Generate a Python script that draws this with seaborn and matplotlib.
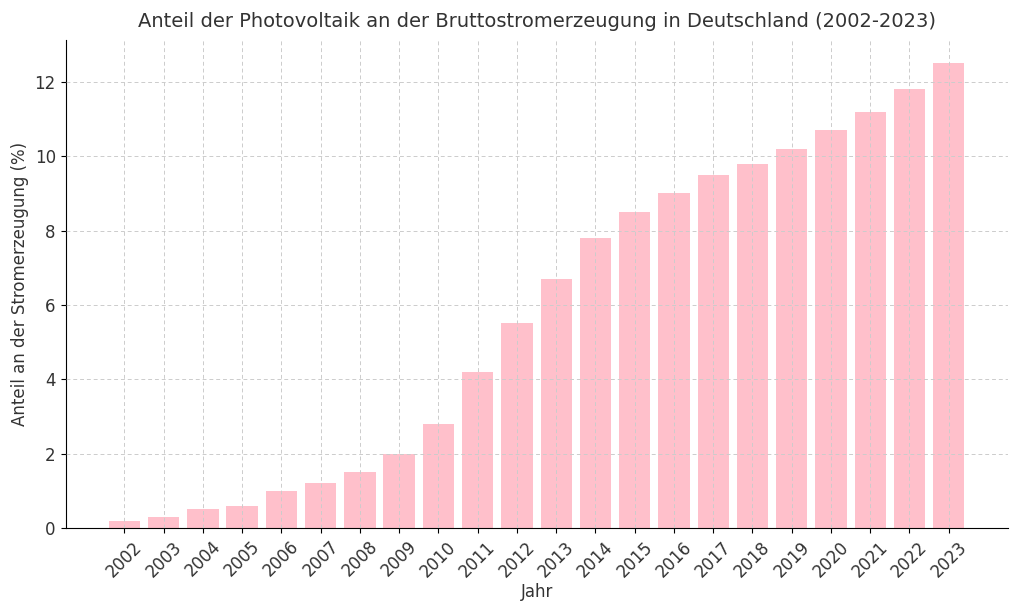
import matplotlib
matplotlib.use("Agg")
import matplotlib.pyplot as plt
import seaborn as sns
import pandas as pd

# Anteil Photovoltaik an der Bruttostromerzeugung (%)
years = [2002, 2003, 2004, 2005, 2006, 2007, 2008, 2009, 2010, 2011, 2012,
         2013, 2014, 2015, 2016, 2017, 2018, 2019, 2020, 2021, 2022, 2023]
share = [0.2, 0.3, 0.5, 0.6, 1.0, 1.2, 1.5, 2.0, 2.8, 4.2, 5.5,
         6.7, 7.8, 8.5, 9.0, 9.5, 9.8, 10.2, 10.7, 11.2, 11.8, 12.5]

df = pd.DataFrame({'Jahr': [str(y) for y in years], 'Anteil': share})

plt.rcParams['font.family'] = ['DejaVu Sans']
text_color = '#333333'

fig, ax = plt.subplots(figsize=(10.24, 6.14), dpi=100)
sns.barplot(data=df, x='Jahr', y='Anteil', color='pink', saturation=1,
            width=0.8, ax=ax)

ax.set_xlim(-1.5, len(years) - 1 + 1.5)
ax.set_ylim(0, max(share) * 1.05)
ax.grid(True, linestyle=(0, (4, 3)), color='#cccccc', linewidth=0.7)
ax.set_axisbelow(False)
for p in ax.patches:
    p.set_zorder(1)

ax.spines['top'].set_visible(False)
ax.spines['right'].set_visible(False)

ax.set_title('Anteil der Photovoltaik an der Bruttostromerzeugung in Deutschland (2002-2023)',
             fontsize=14, color=text_color, pad=9)
ax.set_xlabel('Jahr', fontsize=12, color=text_color, labelpad=2)
ax.set_ylabel('Anteil an der Stromerzeugung (%)', fontsize=12, color=text_color)
ax.tick_params(axis='both', labelsize=12, labelcolor=text_color)
plt.setp(ax.get_xticklabels(), rotation=45, ha='center')

fig.subplots_adjust(left=0.064, right=0.984, top=0.935, bottom=0.14)
fig.savefig('out.png', dpi=100)
